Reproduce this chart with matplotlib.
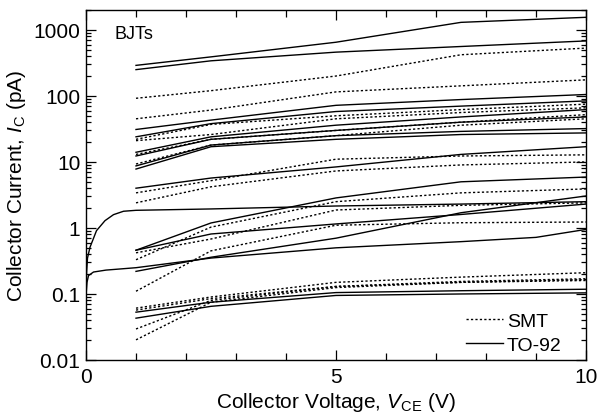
import numpy as np
import matplotlib
matplotlib.use("Agg")
import matplotlib.pyplot as plt
from matplotlib.ticker import FixedLocator, LogLocator, NullFormatter

plt.rcParams['font.family'] = ['Liberation Sans', 'DejaVu Sans']
plt.rcParams['mathtext.fontset'] = 'custom'
plt.rcParams['mathtext.rm'] = 'Liberation Sans'
plt.rcParams['mathtext.it'] = 'Liberation Sans:italic'

# collector voltages where the curves were sampled (V)
vce = [1, 2.5, 5, 7.5, 10]

# TO-92 parts, collector current (pA) at each vce
to92_curves = [
    [290, 390, 650, 1300, 1550],
    [250, 340, 460, 560, 680],
    [31, 43, 72, 88, 105],
    [24, 38, 58, 70, 84],
    [14, 24, 36, 48, 62],
    [12.3, 22, 30, 40, 48],
    [8.7, 18, 25, 29, 32],
    [7.8, 17, 22, 26, 27.5],
    [4.0, 5.7, 8.4, 13, 17],
    [0.46, 1.19, 2.85, 5.0, 5.9],
    [0.46, 0.81, 1.15, 1.6, 2.3],
    [0.22, 0.36, 0.70, 1.7, 3.05],
    [0.053, 0.075, 0.105, 0.112, 0.118],
    [0.043, 0.065, 0.095, 0.100, 0.104],
]

# SMT parts
smt_curves = [
    [92, 120, 200, 420, 530],
    [45, 61, 115, 142, 175],
    [22, 37, 50, 62, 75],
    [21, 26, 45, 56, 66],
    [13, 22, 30, 40, 52],
    [9.3, 18, 25, 36, 45],
    [3.4, 5.2, 11, 12.3, 12.8],
    [2.4, 4.2, 7.3, 9.0, 10],
    [0.33, 1.03, 2.5, 3.4, 3.9],
    [0.42, 0.68, 1.87, 2.2, 2.4],
    [0.11, 0.45, 1.1, 1.2, 1.23],
    [0.061, 0.09, 0.15, 0.18, 0.21],
    [0.057, 0.085, 0.13, 0.15, 0.16],
    [0.0295, 0.08, 0.13, 0.155, 0.17],
    [0.0202, 0.075, 0.125, 0.15, 0.165],
]

# two TO-92 parts that were swept from 0 V
sweep_v1 = [0.003, 0.01, 0.03, 0.08, 0.21, 0.38, 0.55, 0.75, 1, 2.5, 5, 7.5, 10]
sweep_i1 = [0.1, 0.2, 0.35, 0.51, 0.91, 1.29, 1.59, 1.79, 1.85, 1.94, 2.15, 2.3, 2.5]
sweep_v2 = [0.003, 0.02, 0.05, 0.15, 0.4, 1, 2.5, 5, 7.5, 9, 10]
sweep_i2 = [0.1, 0.15, 0.19, 0.215, 0.23, 0.25, 0.35, 0.5, 0.62, 0.72, 0.95]

fig = plt.figure(figsize=(5.98, 4.14), dpi=100)
ax = fig.add_axes([86/598, 53/414, 500/598, 350/414])

lw = 1.0
dots = (0, (1.6, 1.6))
for c in smt_curves:
    ax.plot(vce, c, color='black', lw=lw, linestyle=dots)
for c in to92_curves:
    ax.plot(vce, c, color='black', lw=lw)
ax.plot(sweep_v1, sweep_i1, color='black', lw=lw)
ax.plot(sweep_v2, sweep_i2, color='black', lw=lw)

# legend handles only
ax.plot([], [], color='black', lw=lw, linestyle=dots, label='SMT')
ax.plot([], [], color='black', lw=lw, label='TO-92')

ax.set_yscale('log')
ax.set_xlim(0, 10)
ax.set_ylim(0.01, 2000)
ax.set_yticks([0.01, 0.1, 1, 10, 100, 1000])
ax.set_yticklabels(['0.01', '0.1', '1', '10', '100', '1000'])
ax.yaxis.set_minor_locator(LogLocator(base=10, subs=np.arange(2, 10)))
ax.yaxis.set_minor_formatter(NullFormatter())
ax.set_xticks([0, 5, 10])
ax.xaxis.set_minor_locator(FixedLocator(np.arange(0, 11, 1)))

for s in ax.spines.values():
    s.set_linewidth(1.0)
ax.tick_params(which='both', direction='in', top=True, right=True, labelsize=15, width=0.9)
ax.tick_params(axis='x', which='major', length=7, pad=5)
ax.tick_params(axis='x', which='minor', length=5)
ax.tick_params(axis='y', which='major', length=7, pad=4)
ax.tick_params(axis='y', which='minor', length=3.6)

ax.set_xlabel(r'Collector Voltage, $V_{\mathrm{CE}}$ (V)', fontsize=15, labelpad=3)
ax.set_ylabel(r'Collector Current, $I_{\mathrm{C}}$ (pA)', fontsize=15, labelpad=4)

ax.text(0.058, 0.934, 'BJTs', transform=ax.transAxes, fontsize=13, va='center', ha='left')

ax.legend(loc='lower right', bbox_to_anchor=(0.975, -0.015), frameon=False, fontsize=14,
          handlelength=1.9, handletextpad=0.2, labelspacing=0.3, borderaxespad=0.2)

fig.savefig('out.png', dpi=100)
